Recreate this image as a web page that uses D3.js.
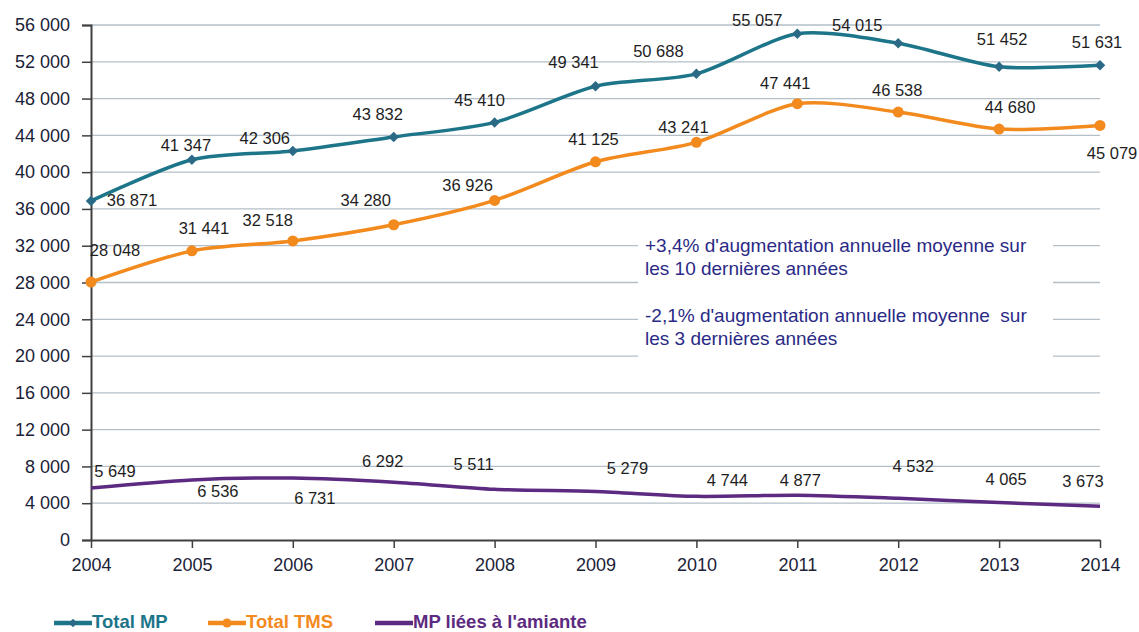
<!DOCTYPE html>
<html><head><meta charset="utf-8">
<script src="https://cdn.jsdelivr.net/npm/d3@7"></script>
<style>
html,body{margin:0;padding:0;background:#fff;}
svg{display:block;font-family:"Liberation Sans",Arial,sans-serif;}
</style></head>
<body>
<svg id="chart" width="1139" height="632"></svg>
<script>
const years = [2004,2005,2006,2007,2008,2009,2010,2011,2012,2013,2014];
const totalMP = [36871,41347,42306,43832,45410,49341,50688,55057,54015,51452,51631];
const totalTMS = [28048,31441,32518,34280,36926,41125,43241,47441,46538,44680,45079];
const amiante = [5649,6536,6731,6292,5511,5279,4744,4877,4532,4065,3673];
const yTicks = [0,4000,8000,12000,16000,20000,24000,28000,32000,36000,40000,44000,48000,52000,56000];
const seriesNames = ["Total MP","Total TMS","MP liées à l'amiante"];
const annotations = [
  ["+3,4% d'augmentation annuelle moyenne sur","les 10 dernières années"],
  ["-2,1% d'augmentation annuelle moyenne  sur","les 3 dernières années"]
];

// label offsets (layout, pixels) relative to each point
const offMP = [[41,1],[-6,-13],[-28,-11],[-16,-21],[-15,-21],[-22,-23],[-38,-21],[-40,-12],[-41,-17],[3,-26],[-3,-22]];
const offTMS = [[24,-30],[12,-21],[-25,-19],[-28,-23],[-27,-14],[-2,-21],[-13,-14],[-12,-19],[-1,-20],[11,-20],[12,29]];
const offAM = [[24,-15],[26,13],[22,22],[-11,-19],[-21,-24],[32,-22],[31,-15],[3,-14],[15,-31],[7,-22],[-17,-24]];

const fmt = v => d3.format(",")(v).replace(/,/g," ");
const FF = "Liberation Sans, Arial, sans-serif";

const svg = d3.select("#chart");
const x = d3.scaleLinear().domain([2004,2014]).range([91,1100]);
const y = d3.scaleLinear().domain([0,56000]).range([540,25]);

// gridlines
svg.append("g").selectAll("line").data(yTicks.filter(d=>d>0)).join("line")
  .attr("x1",91).attr("x2",1100)
  .attr("y1",d=>y(d)).attr("y2",d=>y(d))
  .attr("stroke","#b4bfc8").attr("stroke-width",1.3);

// annotation box covering gridlines
svg.append("rect").attr("x",638).attr("y",232).attr("width",415).attr("height",130).attr("fill","#fff");

// axes
const yAxis = d3.axisLeft(y).tickValues(yTicks).tickFormat(fmt).tickSize(9).tickPadding(12);
const gy = svg.append("g").attr("transform","translate(91,0)").call(yAxis);
gy.select(".domain").attr("stroke","#404040").attr("stroke-width",2);
gy.selectAll(".tick line").attr("stroke","#404040").attr("stroke-width",1.5);
gy.selectAll("text").attr("font-size",18).attr("fill","#1b2238").attr("font-family",FF);

const xAxis = d3.axisBottom(x).tickValues(years).tickFormat(d3.format("d")).tickSize(8).tickSizeOuter(0).tickPadding(10);
const gx = svg.append("g").attr("transform","translate(0,540)").call(xAxis);
gx.select(".domain").attr("stroke","#404040").attr("stroke-width",2);
gx.selectAll(".tick line").attr("stroke","#404040").attr("stroke-width",1.5);
gx.selectAll("text").attr("font-size",18).attr("fill","#1b2238").attr("font-family",FF);

const line = d3.line().x((d,i)=>x(years[i])).y(d=>y(d)).curve(d3.curveCardinal.tension(0.2));

const colMP = "#1c7589", colTMS = "#f28a1e", colAM = "#5c2a80";

svg.append("path").datum(amiante).attr("d",line).attr("fill","none").attr("stroke",colAM).attr("stroke-width",3.5);
svg.append("path").datum(totalTMS).attr("d",line).attr("fill","none").attr("stroke",colTMS).attr("stroke-width",3.5);
svg.append("path").datum(totalMP).attr("d",line).attr("fill","none").attr("stroke",colMP).attr("stroke-width",3.5);

// markers
svg.append("g").selectAll("circle").data(totalTMS).join("circle")
  .attr("cx",(d,i)=>x(years[i])).attr("cy",d=>y(d)).attr("r",5.5).attr("fill",colTMS);
svg.append("g").selectAll("path").data(totalMP).join("path")
  .attr("d",d3.symbol().type(d3.symbolDiamond2).size(70))
  .attr("transform",(d,i)=>`translate(${x(years[i])},${y(d)})`).attr("fill","#2a6a86");

// data labels
function labels(data, offs){
  svg.append("g").selectAll("text").data(data).join("text")
    .attr("x",(d,i)=>x(years[i])+offs[i][0])
    .attr("y",(d,i)=>y(d)+offs[i][1])
    .attr("text-anchor","middle").attr("dominant-baseline","middle")
    .attr("font-size",16.5).attr("fill","#1e1e1e").attr("font-family",FF)
    .text(fmt);
}
labels(totalMP, offMP);
labels(totalTMS, offTMS);
labels(amiante, offAM);

// annotations
const ann = svg.append("g").attr("font-size",19).attr("fill","#2a2a86").attr("font-family",FF);
annotations.forEach((lines,k)=>{
  lines.forEach((t,j)=>{
    ann.append("text").attr("x",645).attr("y",247+k*70+j*22.5).attr("dominant-baseline","middle")
      .style("white-space","pre").text(t);
  });
});

// legend
const legX = [54,208,375];
const cols = [colMP,colTMS,colAM];
seriesNames.forEach((n,i)=>{
  const g = svg.append("g").attr("transform",`translate(${legX[i]},623)`);
  g.append("line").attr("x1",0).attr("x2",38).attr("stroke",cols[i]).attr("stroke-width",4.5);
  if(i===0) g.append("path").attr("d",d3.symbol().type(d3.symbolDiamond2).size(45)).attr("transform","translate(19,0)").attr("fill","#2a6a86");
  if(i===1) g.append("circle").attr("cx",19).attr("r",4.5).attr("fill",colTMS);
  g.append("text").attr("x",38).attr("y",0).attr("dominant-baseline","middle")
    .attr("font-size",18.5).attr("font-weight","bold").attr("fill",cols[i]).attr("font-family",FF).text(n);
});
</script>
</body></html>
